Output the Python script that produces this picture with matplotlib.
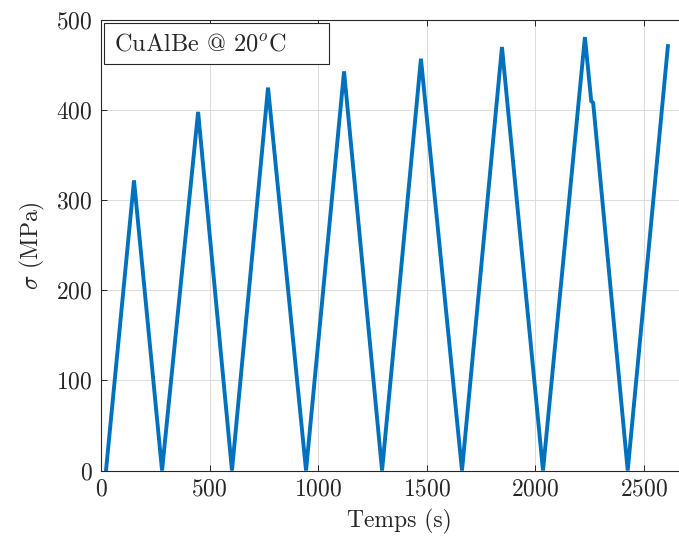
import matplotlib
matplotlib.use("Agg")
import matplotlib.pyplot as plt
from matplotlib.patches import Rectangle

plt.rcParams['font.family'] = ['cmr10', 'DejaVu Serif']
plt.rcParams['mathtext.fontset'] = 'cm'
plt.rcParams['axes.formatter.use_mathtext'] = True

# Data (time in s, stress in MPa)
time_s = [23, 152, 281, 447, 603, 769, 944, 1119, 1294, 1473, 1662, 1846, 2035,
          2228, 2257, 2266, 2425, 2610]
stress_mpa = [0, 322, 0, 398, 0, 425, 0, 443, 0, 457, 0, 470, 0,
              481, 410, 408, 0, 471]
x_ticks = [0, 500, 1000, 1500, 2000, 2500]
y_ticks = [0, 100, 200, 300, 400, 500]

W, H = 679, 544
fig = plt.figure(figsize=(W / 100, H / 100), dpi=100)
ax = fig.add_axes([101 / W, 1 - 470.5 / H, 2750 * 0.2172 / W, 450.5 / H])

ax.plot(time_s, stress_mpa, color='#0072BD', linewidth=2.8, solid_joinstyle='miter')

ax.set_xlim(0, 2750)
ax.set_ylim(0, 500)
ax.set_xticks(x_ticks)
ax.set_yticks(y_ticks)
ax.grid(True, color='#dcdcdc', linewidth=0.7)
ax.set_axisbelow(True)
ax.tick_params(direction='in', length=4, width=0.7, colors='#262626',
               labelsize=17, top=True, right=False, pad=6)
for s in ax.spines.values():
    s.set_color('#262626')
    s.set_linewidth(0.8)
ax.spines['right'].set_visible(False)

ax.set_xlabel('Temps (s)', fontsize=17, color='#262626', labelpad=6)
ax.set_ylabel(r'$\sigma$ (MPa)', fontsize=17, color='#262626', labelpad=7)

# annotation box (pixel geometry converted to figure fraction)
fig.add_artist(Rectangle((104 / W, 1 - 64 / H), 225 / W, 41 / H,
                         transform=fig.transFigure, facecolor='white',
                         edgecolor='#262626', linewidth=0.8, zorder=5))
fig.text(114 / W, 1 - 44 / H, r'CuAlBe @ 20$^o$C', fontsize=17.5,
         va='center', ha='left', color='#262626', zorder=6)

fig.savefig('out.png', dpi=100)
